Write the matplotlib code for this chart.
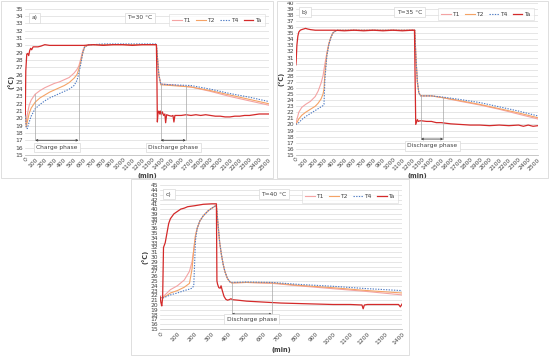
import matplotlib
matplotlib.use("Agg")
import matplotlib.pyplot as plt
from matplotlib.patches import Rectangle

# ---------------- Data ----------------
# Panel a) T=30 °C
a_ta_t = [0, 5, 15, 25, 35, 45, 55, 65, 80, 100, 130, 160, 200, 250, 300, 400, 500, 600, 700,
          800, 900, 1000, 1100, 1200, 1300, 1345, 1350, 1355, 1362, 1370, 1378, 1386, 1395, 1405,
          1420, 1432, 1440, 1450, 1470, 1500, 1515, 1525, 1535, 1560, 1600, 1650, 1700, 1750, 1800,
          1850, 1900, 1950, 2000, 2050, 2100, 2150, 2200, 2250, 2300, 2350, 2400, 2450, 2500]
a_ta = [20.5, 26.5, 28.8, 28.9, 28.6, 29.3, 29.6, 29.4, 29.8, 29.8, 29.8, 29.9, 30.1, 30.0, 30.0,
        30.0, 30.0, 30.0, 30.1, 30.0, 30.1, 30.1, 30.0, 30.1, 30.1, 30.1, 26.0, 19.5, 20.8, 21.0,
        20.6, 21.0, 20.5, 20.9, 20.4, 20.6, 19.4, 20.5, 20.4, 20.3, 20.4, 19.5, 20.4, 20.4, 20.4,
        20.5, 20.4, 20.5, 20.4, 20.5, 20.4, 20.3, 20.3, 20.2, 20.2, 20.3, 20.3, 20.4, 20.4, 20.5,
        20.6, 20.6, 20.6]
a_t = [0, 10, 20, 40, 60, 100, 150, 200, 250, 300, 350, 400, 450, 500, 530, 550, 570, 590, 610,
       650, 700, 800, 1000, 1200, 1345, 1355, 1370, 1390, 1500, 1700, 1900, 2100, 2300, 2500]
a_t1 = [20.8, 19.2, 20.5, 21.8, 22.5, 23.3, 23.8, 24.2, 24.5, 24.8, 25.0, 25.3, 25.6, 26.2, 26.7,
        27.2, 28.2, 29.3, 29.9, 30.1, 30.1, 30.1, 30.1, 30.1, 30.1, 28.5, 26.0, 24.7, 24.6, 24.3,
        23.7, 23.0, 22.4, 21.8]
a_t2 = [20.8, 18.8, 19.5, 20.7, 21.4, 22.2, 22.8, 23.2, 23.6, 23.9, 24.2, 24.5, 24.9, 25.5, 26.0,
        26.8, 27.8, 29.0, 29.8, 30.1, 30.1, 30.1, 30.1, 30.1, 30.1, 28.5, 26.0, 24.6, 24.5, 24.3,
        23.8, 23.2, 22.6, 22.0]
a_t4 = [20.8, 18.7, 18.6, 19.5, 20.3, 21.3, 21.9, 22.4, 22.8, 23.1, 23.4, 23.7, 24.0, 24.5, 25.2,
        26.2, 27.5, 29.0, 29.8, 30.1, 30.1, 30.2, 30.2, 30.2, 30.2, 28.5, 26.0, 24.7, 24.6, 24.5,
        24.0, 23.4, 22.9, 22.3]

# Panel b) T=35 °C
b_ta_t = [0, 3, 10, 20, 30, 45, 60, 80, 100, 120, 150, 200, 300, 400, 500, 600, 700, 800, 900,
          1000, 1100, 1200, 1225, 1232, 1238, 1255, 1265, 1280, 1300, 1350, 1400, 1450, 1500, 1550,
          1600, 1700, 1800, 1900, 2000, 2100, 2200, 2300, 2350, 2400, 2450, 2500]
b_ta = [29.8, 30.5, 33.0, 34.5, 35.2, 35.5, 35.6, 35.7, 35.8, 35.7, 35.6, 35.5, 35.5, 35.5, 35.4,
        35.5, 35.4, 35.5, 35.4, 35.5, 35.4, 35.5, 35.5, 27.0, 20.0, 20.8, 20.5, 20.6, 20.6, 20.5,
        20.5, 20.3, 20.3, 20.2, 20.1, 20.0, 19.9, 19.9, 19.8, 19.9, 19.8, 19.9, 19.7, 19.9, 19.7,
        19.8]
b_t = [0, 10, 30, 60, 100, 150, 200, 230, 260, 280, 290, 300, 320, 340, 360, 380, 400, 430, 500,
       700, 900, 1100, 1228, 1240, 1255, 1270, 1290, 1400, 1520, 1700, 1900, 2100, 2300, 2500]
b_t1 = [20.2, 20.8, 22.0, 22.8, 23.3, 23.8, 24.6, 25.5, 26.8, 28.0, 29.0, 30.0, 31.8, 33.3, 34.3,
        35.0, 35.3, 35.5, 35.5, 35.5, 35.5, 35.5, 35.5, 31.0, 27.0, 25.2, 24.7, 24.7, 24.4, 23.8,
        23.2, 22.5, 21.7, 20.9]
b_t2 = [20.0, 20.3, 20.9, 21.5, 22.0, 22.5, 23.0, 23.5, 24.2, 25.0, 25.8, 28.5, 31.5, 33.2, 34.3,
        35.0, 35.3, 35.5, 35.5, 35.5, 35.5, 35.5, 35.5, 31.0, 27.0, 25.2, 24.7, 24.7, 24.4, 23.9,
        23.3, 22.6, 21.9, 21.1]
b_t4 = [20.0, 20.1, 20.3, 20.8, 21.3, 21.8, 22.3, 22.6, 22.9, 23.1, 23.3, 27.5, 31.3, 33.1, 34.2,
        35.0, 35.3, 35.5, 35.5, 35.5, 35.5, 35.5, 35.5, 31.0, 27.0, 25.2, 24.7, 24.7, 24.5, 24.1,
        23.6, 22.9, 22.2, 21.4]

# Panel c) T=40 °C
c_ta_t = [0, 5, 10, 15, 20, 25, 30, 40, 50, 60, 70, 80, 100, 120, 140, 160, 200, 250, 300, 326,
          329, 333, 340, 348, 353, 360, 370, 380, 390, 400, 410, 420, 450, 500, 600, 700, 800, 900,
          1000, 1100, 1168, 1175, 1182, 1200, 1300, 1380, 1390, 1400]
c_ta = [21.8, 20.5, 19.8, 21.5, 32.0, 32.5, 33.0, 35.0, 37.0, 38.0, 38.5, 39.0, 39.5, 40.0, 40.2,
        40.5, 40.7, 41.0, 41.1, 41.1, 25.0, 24.3, 23.6, 23.5, 24.0, 23.0, 21.8, 21.2, 21.0, 21.1,
        21.3, 21.1, 21.0, 20.8, 20.6, 20.4, 20.3, 20.2, 20.1, 20.1, 20.0, 19.2, 20.0, 20.1, 20.1,
        20.1, 19.6, 20.2]
c_t = [0, 10, 20, 40, 60, 100, 140, 170, 185, 195, 205, 215, 230, 250, 280, 300, 326, 335, 345,
       355, 365, 375, 390, 405, 415, 500, 650, 800, 1000, 1200, 1400]
c_t1 = [21.5, 21.6, 21.8, 22.5, 23.2, 24.0, 25.2, 27.0, 29.0, 31.5, 34.5, 36.0, 37.5, 38.6, 39.7,
        40.2, 40.8, 37.0, 33.0, 30.5, 28.5, 27.0, 25.5, 24.8, 24.6, 24.7, 24.5, 24.0, 23.4, 22.8,
        22.1]
c_t2 = [21.5, 21.5, 21.6, 22.0, 22.5, 23.0, 23.7, 24.5, 27.5, 31.5, 34.5, 36.0, 37.5, 38.6, 39.7,
        40.2, 40.8, 37.0, 33.0, 30.5, 28.5, 27.0, 25.5, 24.8, 24.6, 24.7, 24.6, 24.1, 23.6, 23.0,
        22.5]
c_t4 = [21.5, 21.5, 21.5, 21.8, 22.1, 22.5, 23.0, 23.3, 23.5, 24.0, 33.5, 36.0, 37.5, 38.6, 39.7,
        40.2, 40.8, 37.0, 33.0, 30.5, 28.5, 27.0, 25.5, 24.8, 24.7, 24.8, 24.7, 24.3, 23.9, 23.4,
        23.0]

series_names = ["T1", "T2", "T4", "Ta"]
panel_labels = ["a)", "b)", "c)"]
panel_titles = ["T=30 °C", "T=35 °C", "T=40 °C"]

# ---------------- Style ----------------
C_T1 = "#f4a3a3"
C_T2 = "#f5a366"
C_T4 = "#4f7cc4"
C_TA = "#d42a2a"
GRID = "#dcdcdc"
TXT = "#404040"
FS = 4.3

fig = plt.figure(figsize=(5.5, 3.56), dpi=100)

# panel frames (figure coords)
for (x0, y0, w, h) in [(0.002, 0.500, 0.494, 0.497), (0.504, 0.500, 0.492, 0.497),
                       (0.238, 0.003, 0.506, 0.494)]:
    fig.patches.append(Rectangle((x0, y0), w, h, transform=fig.transFigure, fill=False,
                                 edgecolor="#d9d9d9", lw=0.6))


def setup(ax, xmax, ymin, ymax):
    ax.set_xlim(0, xmax)
    ax.set_ylim(ymin, ymax)
    ax.set_xticks(range(0, xmax + 1, 100))
    ax.set_yticks(range(ymin, ymax + 1, 1))
    ax.tick_params(axis="both", length=0, labelsize=FS, colors=TXT, pad=1.5)
    for lab in ax.get_xticklabels():
        lab.set_rotation(45)
        lab.set_ha("right")
        lab.set_va("top")
        lab.set_rotation_mode("anchor")
    ax.grid(axis="y", color=GRID, lw=0.5)
    ax.set_axisbelow(True)
    for s in ["top", "right", "left"]:
        ax.spines[s].set_visible(False)
    ax.spines["bottom"].set_color("#bfbfbf")
    ax.spines["bottom"].set_linewidth(0.6)
    ax.set_xlabel("(min)", fontsize=FS + 0.4, color=TXT, fontweight="bold", labelpad=1)
    ax.set_ylabel("(°C)", fontsize=FS + 0.4, color=TXT, fontweight="bold", labelpad=1)


def draw(ax, t, t1, t2, t4, ta_t, ta):
    ax.plot(t, t1, color=C_T1, lw=0.8, label=series_names[0])
    ax.plot(t, t2, color=C_T2, lw=0.8, label=series_names[1])
    ax.plot(t, t4, color=C_T4, lw=0.8, ls=(0, (1.2, 1.2)), label=series_names[2])
    ax.plot(ta_t, ta, color=C_TA, lw=0.9, label=series_names[3])


def boxes(ax, lab, title):
    bb = dict(boxstyle="square,pad=0.45", fc="white", ec="#d9d9d9", lw=0.5)
    ax.text(0.025, 0.955, lab, transform=ax.transAxes, fontsize=FS, color=TXT,
            va="top", ha="left", bbox=bb)
    ax.text(0.47, 0.955, title, transform=ax.transAxes, fontsize=FS, color=TXT,
            va="top", ha="center", bbox=bb)
    leg = ax.legend(loc="upper right", bbox_to_anchor=(0.995, 0.985), ncol=4, fontsize=FS,
                    frameon=True, fancybox=False, handlelength=1.6, handletextpad=0.25,
                    columnspacing=0.9, borderpad=0.6)
    leg.get_frame().set_edgecolor("#d9d9d9")
    leg.get_frame().set_linewidth(0.5)
    for txt in leg.get_texts():
        txt.set_color(TXT)


def bracket(ax, x1, x2, y1, y2, ybar, label, ylab):
    ax.plot([x1, x1], [ybar, y1], color="#a6a6a6", lw=0.5)
    ax.plot([x2, x2], [ybar, y2], color="#a6a6a6", lw=0.5)
    ax.annotate("", xy=(x1, ybar), xytext=(x2, ybar),
                arrowprops=dict(arrowstyle="<->", color="#404040", lw=0.6,
                                shrinkA=0, shrinkB=0, mutation_scale=3))
    ax.text((x1 + x2) / 2, ylab, label, fontsize=FS, color=TXT, ha="center", va="center",
            bbox=dict(boxstyle="square,pad=0.4", fc="white", ec="#d9d9d9", lw=0.5))


# Panel a
axa = fig.add_axes([0.046, 0.565, 0.443, 0.410])
setup(axa, 2500, 15, 35)
draw(axa, a_t, a_t1, a_t2, a_t4, a_ta_t, a_ta)
boxes(axa, panel_labels[0], panel_titles[0])
bracket(axa, 102, 546, 23.3, 27.2, 17.0, "Charge phase", 16.0)
bracket(axa, 1389, 1648, 24.7, 24.4, 17.0, "Discharge phase", 16.0)

# Panel b
axb = fig.add_axes([0.538, 0.565, 0.440, 0.427])
setup(axb, 2500, 15, 40)
draw(axb, b_t, b_t1, b_t2, b_t4, b_ta_t, b_ta)
boxes(axb, panel_labels[1], panel_titles[1])
bracket(axb, 1292, 1522, 24.7, 24.4, 17.6, "Discharge phase", 16.5)

# Panel c
axc = fig.add_axes([0.291, 0.076, 0.440, 0.404])
setup(axc, 1400, 15, 45)
draw(axc, c_t, c_t1, c_t2, c_t4, c_ta_t, c_ta)
boxes(axc, panel_labels[2], panel_titles[2])
bracket(axc, 415, 647, 24.7, 24.6, 18.1, "Discharge phase", 17.0)

fig.savefig("out.png", dpi=100)
